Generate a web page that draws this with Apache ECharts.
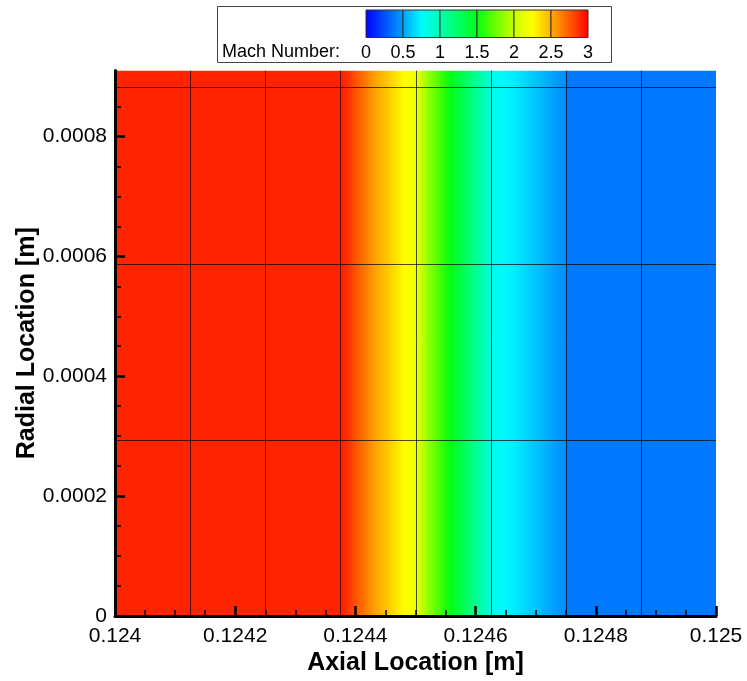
<!DOCTYPE html>
<html><head><meta charset="utf-8">
<script src="https://cdn.jsdelivr.net/npm/echarts@6/dist/echarts.min.js"></script>
<style>html,body{margin:0;padding:0;background:#fff}#c{width:747px;height:681px}</style>
</head><body><div id="c"></div>
<script>
// ---- data ----
const axialStations = [0.12400, 0.12438, 0.12439, 0.12440, 0.12442, 0.12443, 0.12445, 0.12447, 0.12448, 0.12450,
  0.12451, 0.12452, 0.12454, 0.12456, 0.12458, 0.12459, 0.12461, 0.12462, 0.12463, 0.12465,
  0.12467, 0.12469, 0.12471, 0.12473, 0.12475, 0.124752, 0.12500];
const machValues = [2.9, 2.9, 2.85, 2.77, 2.63, 2.55, 2.44, 2.32, 2.26, 2.18,
  2.0, 1.85, 1.66, 1.48, 1.3, 1.2, 1.02, 0.92, 0.8, 0.74,
  0.7, 0.63, 0.57, 0.5, 0.44, 0.375, 0.375];
const meshAxial = [0.124125, 0.12425, 0.124375, 0.1245, 0.124625, 0.12475, 0.124875];
const meshRadial = [0.000293, 0.000588, 0.000883];
const xMajorTicks = [0.124, 0.1242, 0.1244, 0.1246, 0.1248, 0.125];
const xMinorTicks = [0.12405, 0.1241, 0.12415, 0.12425, 0.1243, 0.12435, 0.12445, 0.1245, 0.12455,
  0.12465, 0.1247, 0.12475, 0.12485, 0.1249, 0.12495];
const yMajorTicks = [0, 0.0002, 0.0004, 0.0006, 0.0008];
const yMinorTicks = [0.00005, 0.0001, 0.00015, 0.00025, 0.0003, 0.00035, 0.00045, 0.0005, 0.00055,
  0.00065, 0.0007, 0.00075, 0.00085];
const legendTicks = [0, 0.5, 1, 1.5, 2, 2.5, 3];
const colormapStops = [0, 0.25, 0.5, 0.75, 1, 1.25, 1.5, 1.75, 2, 2.25, 2.5, 2.75, 3];
const colormapColors = ['#0000ff', '#0050ff', '#00a0ff', '#00faff', '#00ffb4', '#00ff64', '#00ff14',
  '#6eff00', '#c8ff00', '#ffff00', '#ffaf00', '#ff5a00', '#ff0000'];
const X_MIN = 0.124, X_MAX = 0.125, Y_MIN = 0, Y_MAX = 0.00091, M_MIN = 0, M_MAX = 3;

// ---- helpers ----
const FONT = '"Liberation Sans", Arial, sans-serif';
function machColor(m) {
  return echarts.color.lerp((m - M_MIN) / (M_MAX - M_MIN), colormapColors);
}
function fillFor(m0, m1) {
  if (m0 === m1) return machColor(m0);
  const lo = Math.min(m0, m1), hi = Math.max(m0, m1);
  const stops = [{offset: 0, color: machColor(m0)}];
  colormapStops.forEach(k => { if (k > lo && k < hi) stops.push({offset: (k - m0) / (m1 - m0), color: machColor(k)}); });
  stops.push({offset: 1, color: machColor(m1)});
  stops.sort((a, b) => a.offset - b.offset);
  return new echarts.graphic.LinearGradient(0, 0, 1, 0, stops);
}
const fieldData = axialStations.slice(0, -1).map((x, i) => [x, axialStations[i + 1], machValues[i], machValues[i + 1]]);
const legendData = legendTicks.slice(0, -1).map((v, i) => [v, legendTicks[i + 1]]);
const fmt = v => String(+(+v).toFixed(6));

const chart = echarts.init(document.getElementById('c'), null, {renderer: 'canvas'});
const option = {
  animation: false,
  backgroundColor: '#ffffff',
  textStyle: {fontFamily: FONT},
  grid: [
    {left: 115, top: 70.5, width: 601, height: 546},
    {left: 366, top: 10, width: 222, height: 27.5}
  ],
  graphic: [
    {type: 'rect', z: 0, shape: {x: 217.5, y: 6.5, width: 394, height: 56},
      style: {fill: '#ffffff', stroke: '#444', lineWidth: 1}},
    {type: 'text', z: 1, x: 222, y: 52,
      style: {text: 'Mach Number:', font: '18px ' + FONT, fill: '#000', verticalAlign: 'middle', align: 'left'}}
  ],
  xAxis: [
    {gridIndex: 0, type: 'value', min: X_MIN, max: X_MAX, z: 10,
      axisLine: {show: true, onZero: false, lineStyle: {color: '#000', width: 3}},
      axisTick: {show: true, inside: true, length: 10, customValues: xMajorTicks, lineStyle: {color: '#000', width: 2.5}},
      axisLabel: {customValues: xMajorTicks, formatter: fmt, fontSize: 21, color: '#000', margin: 10, fontFamily: FONT},
      splitLine: {show: false},
      name: 'Axial Location [m]', nameLocation: 'middle', nameGap: 35, nameMoveOverlap: false,
      nameTextStyle: {fontSize: 25, fontWeight: 'bold', color: '#000', fontFamily: FONT}},
    {gridIndex: 0, type: 'value', min: X_MIN, max: X_MAX, position: 'bottom', z: 10,
      axisLine: {show: false, onZero: false},
      axisTick: {show: true, inside: true, length: 6, customValues: xMinorTicks, lineStyle: {color: '#000', width: 1.5}},
      axisLabel: {show: false}, splitLine: {show: false}},
    {gridIndex: 1, type: 'value', min: 0, max: 3,
      axisLine: {show: false}, axisTick: {show: false}, splitLine: {show: false},
      axisLabel: {customValues: legendTicks, fontSize: 18, color: '#000', margin: 7, fontFamily: FONT}}
  ],
  yAxis: [
    {gridIndex: 0, type: 'value', min: Y_MIN, max: Y_MAX, z: 10,
      axisLine: {show: true, onZero: false, lineStyle: {color: '#000', width: 3}},
      axisTick: {show: true, inside: true, length: 10, customValues: yMajorTicks, lineStyle: {color: '#000', width: 2.5}},
      axisLabel: {customValues: yMajorTicks, formatter: fmt, fontSize: 21, color: '#000', margin: 8, fontFamily: FONT},
      splitLine: {show: false},
      name: 'Radial Location [m]', nameLocation: 'middle', nameGap: 75, nameMoveOverlap: false,
      nameTextStyle: {fontSize: 25, fontWeight: 'bold', color: '#000', fontFamily: FONT}},
    {gridIndex: 0, type: 'value', min: Y_MIN, max: Y_MAX, position: 'left', z: 10,
      axisLine: {show: false, onZero: false},
      axisTick: {show: true, inside: true, length: 6, customValues: yMinorTicks, lineStyle: {color: '#000', width: 1.5}},
      axisLabel: {show: false}, splitLine: {show: false}},
    {gridIndex: 1, type: 'value', min: 0, max: 1, show: false}
  ],
  series: [
    {type: 'custom', name: 'field', xAxisIndex: 0, yAxisIndex: 0, clip: true, data: fieldData,
      renderItem: (params, api) => {
        const p0 = api.coord([api.value(0), Y_MAX]);
        const p1 = api.coord([api.value(1), Y_MIN]);
        return {type: 'rect', shape: {x: p0[0], y: p0[1], width: p1[0] - p0[0] + 0.6, height: p1[1] - p0[1]},
          style: {fill: fillFor(api.value(2), api.value(3))}};
      }},
    {type: 'custom', name: 'meshAxial', xAxisIndex: 0, yAxisIndex: 0, clip: true, data: meshAxial.map(v => [v]),
      renderItem: (params, api) => {
        const a = api.coord([api.value(0), Y_MIN]), b = api.coord([api.value(0), Y_MAX]);
        const x = Math.round(a[0]) + 0.5;
        return {type: 'line', shape: {x1: x, y1: a[1], x2: x, y2: b[1]},
          style: {stroke: 'rgba(0,0,0,0.7)', lineWidth: 1}};
      }},
    {type: 'custom', name: 'meshRadial', xAxisIndex: 0, yAxisIndex: 0, clip: true, data: meshRadial.map(v => [X_MIN, v]),
      renderItem: (params, api) => {
        const a = api.coord([X_MIN, api.value(1)]), b = api.coord([X_MAX, api.value(1)]);
        const y = Math.round(a[1]) + 0.5;
        return {type: 'line', shape: {x1: a[0], y1: y, x2: b[0], y2: y},
          style: {stroke: 'rgba(0,0,0,0.7)', lineWidth: 1}};
      }},
    {type: 'custom', name: 'legend', xAxisIndex: 2, yAxisIndex: 2, data: legendData,
      renderItem: (params, api) => {
        const p0 = api.coord([api.value(0), 1]);
        const p1 = api.coord([api.value(1), 0]);
        return {type: 'rect', shape: {x: p0[0], y: p0[1], width: p1[0] - p0[0], height: p1[1] - p0[1]},
          style: {fill: fillFor(api.value(0), api.value(1)), stroke: '#333', lineWidth: 1}};
      }}
  ]
};
chart.setOption(option);
</script></body></html>
